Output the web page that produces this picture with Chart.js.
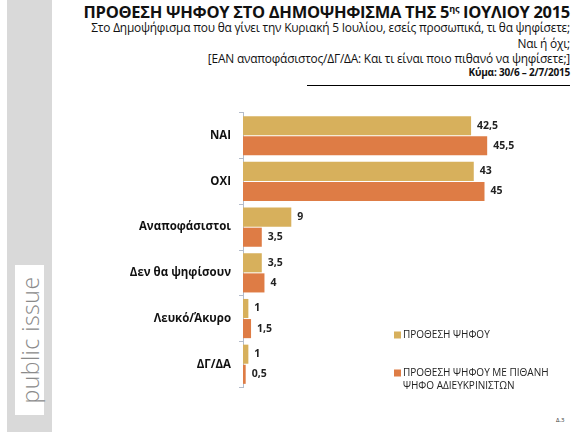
<!DOCTYPE html>
<html>
<head>
<meta charset="utf-8">
<script src="https://cdn.jsdelivr.net/npm/chart.js@4"></script>
<style>
  body { margin: 0; width: 576px; height: 432px; position: relative; overflow: hidden; background: #fff; font-family: "Open Sans", sans-serif; }
  #side { position: absolute; left: 7px; top: 0; width: 45px; height: 432px; background: #d9d9d9; }
  #logo { position: absolute; left: 15px; top: 265px; width: 29px; height: 150px; background: #fff; }
  #logo span { position: absolute; left: 50%; top: 50%; transform: translate(-50%, -50%) rotate(-90deg); font-size: 23px; color: #8a8a8a; white-space: nowrap; font-weight: 300; letter-spacing: 0.5px; }
  .r { position: absolute; right: 6px; text-align: right; white-space: nowrap; color: #111; }
  #title { top: 3px; line-height: 18px; font-size: 16.5px; font-weight: bold; letter-spacing: -0.3px; }
  #title sup { font-size: 9px; line-height: 0; }
  .sub { font-size: 11.9px; line-height: 14px; letter-spacing: -0.2px; }
  #rule { position: absolute; left: 307px; top: 85px; width: 263px; height: 1px; background: #000; }
  #foot { position: absolute; left: 556px; top: 416px; font-size: 6px; color: #333; }
  #wrap { position: absolute; left: 0; top: 98px; width: 576px; height: 304px; }
</style>
</head>
<body>
<div id="side"></div>
<div id="logo"><span>public issue</span></div>
<div class="r" id="title">ΠΡΟΘΕΣΗ ΨΗΦΟΥ ΣΤΟ ΔΗΜΟΨΗΦΙΣΜΑ ΤΗΣ 5<sup>ης</sup> ΙΟΥΛΙΟΥ 2015</div>
<div class="r sub" style="top:20px">Στο Δημοψήφισμα που θα γίνει την Κυριακή 5 Ιουλίου, εσείς προσωπικά, τι θα ψηφίσετε;</div>
<div class="r sub" style="top:36px">Ναι ή όχι;</div>
<div class="r sub" style="top:51px">[ΕΑΝ αναποφάσιστος/ΔΓ/ΔΑ: Και τι είναι ποιο πιθανό να ψηφίσετε;]</div>
<div class="r sub" style="top:65px; font-weight:bold; font-size:10px">Κύμα: 30/6 – 2/7/2015</div>
<div id="rule"></div>
<div id="wrap"><canvas id="myChart" width="576" height="304"></canvas></div>
<div id="foot">Δ.3</div>
<script>
const categories = ['ΝΑΙ', 'ΟΧΙ', 'Αναποφάσιστοι', 'Δεν θα ψηφίσουν', 'Λευκό/Άκυρο', 'ΔΓ/ΔΑ'];
const intention = [42.5, 43, 9, 3.5, 1, 1];
const withUndecided = [45.5, 45, 3.5, 4, 1.5, 0.5];
const seriesNames = ['ΠΡΟΘΕΣΗ ΨΗΦΟΥ', ['ΠΡΟΘΕΣΗ ΨΗΦΟΥ ΜΕ ΠΙΘΑΝΗ', 'ΨΗΦΟ ΑΔΙΕΥΚΡΙΝΙΣΤΩΝ']];
const colors = ['#d7b05c', '#de7c45'];

const valueLabels = {
    id: 'valueLabels',
    afterDatasetsDraw(chart) {
        const c = chart.ctx;
        c.save();
        c.font = 'bold 10.5px "Open Sans"';
        c.fillStyle = '#222';
        c.textBaseline = 'middle';
        chart.data.datasets.forEach((ds, i) => {
            chart.getDatasetMeta(i).data.forEach((bar, j) => {
                c.fillText(String(ds.data[j]).replace('.', ','), bar.x + 6, bar.y);
            });
        });
        c.restore();
    }
};

const sideLegend = {
    id: 'sideLegend',
    afterDraw(chart) {
        const c = chart.ctx;
        c.save();
        c.font = '10px "Open Sans"';
        c.textBaseline = 'middle';
        const ys = [237, 275];
        chart.data.datasets.forEach((ds, i) => {
            const lines = Array.isArray(ds.label) ? ds.label : [ds.label];
            c.fillStyle = ds.backgroundColor;
            c.fillRect(394, ys[i] - 3.5, 7, 7);
            c.fillStyle = '#222';
            lines.forEach((t, k) => c.fillText(t, 403, ys[i] + k * 13));
        });
        c.restore();
    }
};

new Chart(document.getElementById('myChart'), {
    type: 'bar',
    data: {
        labels: categories,
        datasets: [
            { label: seriesNames[0], data: intention, backgroundColor: colors[0], categoryPercentage: 0.88, barPercentage: 0.95 },
            { label: seriesNames[1], data: withUndecided, backgroundColor: colors[1], categoryPercentage: 0.88, barPercentage: 0.95 }
        ]
    },
    options: {
        indexAxis: 'y',
        responsive: false,
        animation: false,
        layout: { padding: { top: 4, bottom: 7, right: 11 } },
        plugins: { legend: { display: false }, tooltip: { enabled: false } },
        scales: {
            x: { display: false, min: 0, max: 60 },
            y: {
                afterFit(s) { s.width = 243; },
                border: { color: '#b4bccb' },
                grid: { drawOnChartArea: false, color: '#b4bccb', tickLength: 4 },
                ticks: { color: '#111', padding: 8, font: { family: 'Open Sans', weight: 'bold', size: 11.5 } }
            }
        }
    },
    plugins: [valueLabels, sideLegend]
});
</script>
</body>
</html>
